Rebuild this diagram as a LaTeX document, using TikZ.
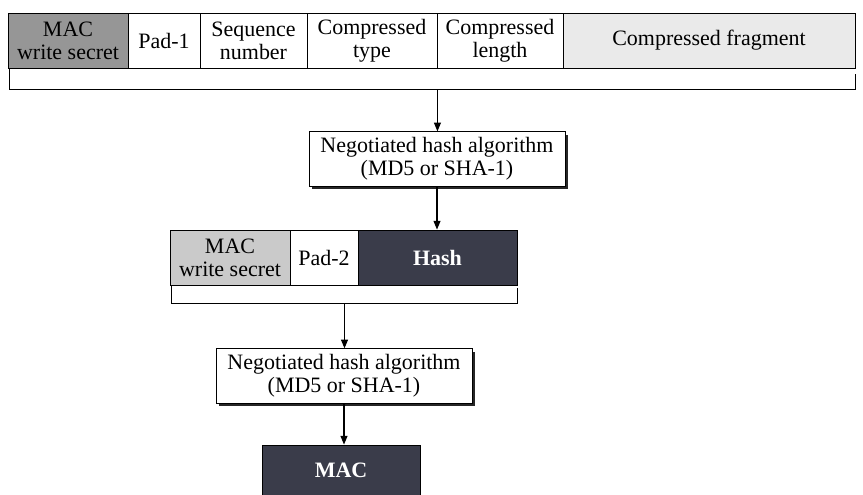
\documentclass[tikz,border=0pt]{standalone}
\usepackage{fontspec}
\setmainfont{Liberation Serif}
\usepackage{tikz}
\usetikzlibrary{arrows.meta, positioning, shadows, calc}
\definecolor{inkdark}{RGB}{58, 60, 74}
\definecolor{keymid}{RGB}{150, 150, 150}
\definecolor{keylight}{RGB}{202, 202, 202}
\definecolor{fragbg}{RGB}{234, 234, 234}

\begin{document}
\begin{tikzpicture}[
  field/.style={draw, line width=0.5pt, minimum height=1.1cm, inner sep=1pt,
                align=center, font=\fontsize{12.5}{13}\selectfont},
  algbox/.style={draw, line width=0.5pt, fill=white, minimum width=5.12cm,
                 minimum height=1.04cm, align=center,
                 font=\fontsize{12.5}{13}\selectfont,
                 drop shadow={shadow xshift=1.6pt, shadow yshift=-1.6pt,
                              fill=black, opacity=0.85}},
  darkbox/.style={field, fill=inkdark, text=white, font=\fontsize{12.5}{13}\selectfont\bfseries},
  brace/.style={line width=0.8pt},
  flow/.style={line width=0.6pt, -{Triangle[length=5pt, width=4pt]}},
]
  \useasboundingbox (0,0) rectangle (17.26,-9.9);

  % first input block
  \foreach \name/\x/\w/\shade/\txt in {
      mwsa/1.36/2.40/keymid/{MAC\\write secret},
      pada/3.28/1.44/white/{Pad-1},
      seq/5.07/2.14/white/{Sequence\\number},
      ctype/7.44/2.60/white/{Compressed\\type},
      clen/10.00/2.52/white/{Compressed\\length},
      cfrag/14.18/5.84/fragbg/{Compressed fragment}}{
    \node[field, fill=\shade, minimum width=\w cm] (\name) at (\x,-0.81) {\txt};
  }
  \draw[brace] ([xshift=0.04cm]mwsa.south west) -- ++(0,-0.42) coordinate (bla)
    -- (bla -| cfrag.south east) -- ++(0,0.3);
  \coordinate (ba) at (bla -| ctype.south east);

  \node[algbox] (alga) at (8.74,-3.18) {Negotiated hash algorithm\\(MD5 or SHA-1)};
  \draw[flow] (ba) -- (ba |- alga.north);

  % second input block
  \node[field, fill=keylight, minimum width=2.40cm] (mwsb) at (4.60,-5.15) {MAC\\write secret};
  \node[field, fill=white, minimum width=1.36cm] (padb) at (6.48,-5.15) {Pad-2};
  \node[darkbox, minimum width=3.18cm] (hash) at (8.75,-5.15) {Hash};
  \draw[flow] (alga.south) -- (alga.south |- hash.north);

  \draw[brace] ([xshift=0.04cm]mwsb.south west) -- ++(0,-0.36) coordinate (blb)
    -- (blb -| hash.south east) -- ++(0,0.3);
  \coordinate (bb) at ($(blb)!0.5!(blb -| hash.south east)$);

  \node[algbox] (algb) at (6.88,-7.52) {Negotiated hash algorithm\\(MD5 or SHA-1)};
  \draw[flow] (bb) -- (bb |- algb.north);

  \node[darkbox, minimum width=3.16cm, minimum height=1.0cm] (mac) at (6.82,-9.4) {MAC};
  \draw[flow] (algb.south) -- (algb.south |- mac.north);
\end{tikzpicture}
\end{document}
